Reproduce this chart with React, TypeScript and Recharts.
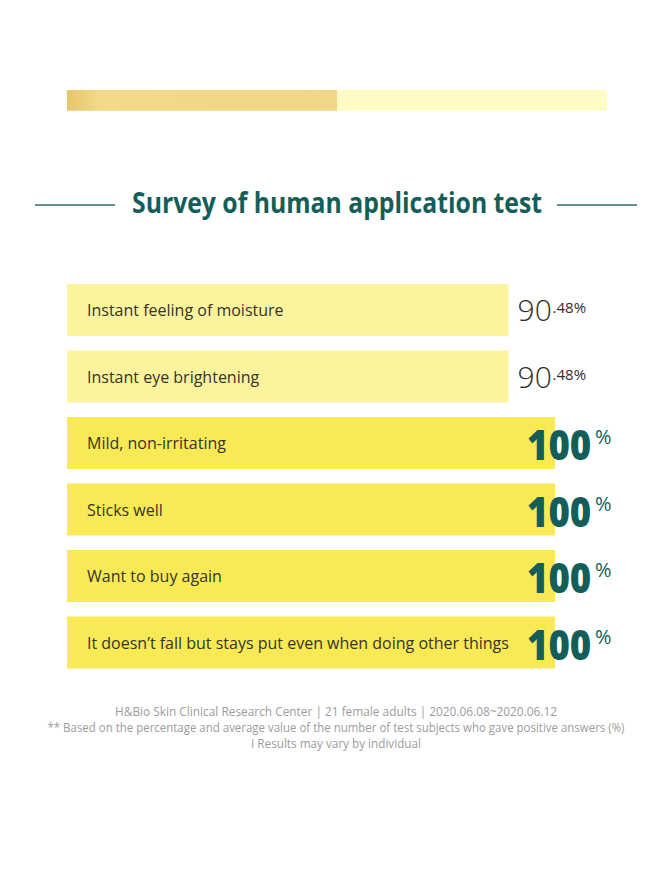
import React from "react";
import { BarChart, Bar, XAxis, YAxis, Cell, LabelList } from "recharts";

const categories = [
  "Instant feeling of moisture",
  "Instant eye brightening",
  "Mild, non-irritating",
  "Sticks well",
  "Want to buy again",
  "It doesn\u2019t fall but stays put even when doing other things",
];
const values = [90.48, 90.48, 100, 100, 100, 100];
const progressDone = [50];
const progressRest = [50];

const title = "Survey of human application test";
const footerLines = [
  "H&Bio Skin Clinical Research Center | 21 female adults | 2020.06.08~2020.06.12",
  "** Based on the percentage and average value of the number of test subjects who gave positive answers (%)",
  "I Results may vary by individual",
];

const data = categories.map((name, i) => ({ name, value: values[i] }));
const progressData = progressDone.map((d, i) => ({ name: "p", done: d, rest: progressRest[i] }));

const FONT = "'Open Sans', 'Noto Sans', sans-serif";
const TEAL = "#135E59";
const PALE = "#FCF39E";
const BRIGHT = "#F9EA55";

const NameLabel = (props: any) => {
  const { x, y, height, value } = props;
  return (
    <text
      x={Number(x) + 20}
      y={Number(y) + Number(height) / 2 + 6}
      fontFamily={FONT}
      fontSize={16}
      fill="#34342c"
    >
      {value}
    </text>
  );
};

const ValueLabel = (props: any) => {
  const { x, y, width, height, value } = props;
  const end = Number(x) + Number(width);
  const cy = Number(y) + Number(height) / 2;
  if (Number(value) >= 100) {
    const sx = end - 28;
    return (
      <g>
        <text
          transform={`translate(${sx},${cy + 17}) scale(0.87,1)`}
          fontFamily={FONT}
          fontSize={42}
          fontWeight={800}
          fill={TEAL}
        >
          {String(Math.round(Number(value)))}
        </text>
        <text x={sx + 68} y={cy + 1} fontFamily={FONT} fontSize={20} fontWeight={500} fill={TEAL}>
          %
        </text>
      </g>
    );
  }
  const parts = Number(value).toFixed(2).split(".");
  const sx = end + 9;
  return (
    <text x={sx} y={cy + 11} fontFamily={FONT} fill="#2f2f2f">
      <tspan fontSize={30} fontWeight={300}>
        {parts[0]}
      </tspan>
      <tspan x={sx + 35} y={cy + 3} fontSize={15} fontWeight={400}>
        {"." + parts[1] + "%"}
      </tspan>
    </text>
  );
};

export default function App() {
  return (
    <div
      style={{
        position: "absolute",
        left: 0,
        top: 0,
        width: 672,
        height: 896,
        background: "#ffffff",
        overflow: "hidden",
      }}
    >
      <div style={{ position: "absolute", left: 0, top: 89 }}>
        <BarChart
          width={672}
          height={23}
          layout="vertical"
          data={progressData}
          margin={{ top: 0, right: 65, bottom: 0, left: 67 }}
          barCategoryGap={0}
        >
          <defs>
            <linearGradient id="gold" x1="0" y1="0" x2="1" y2="0">
              <stop offset="0" stopColor="#E6C56C" />
              <stop offset="0.12" stopColor="#F2DA89" />
              <stop offset="1" stopColor="#EFD787" />
            </linearGradient>
          </defs>
          <XAxis type="number" domain={[0, 100]} hide />
          <YAxis type="category" dataKey="name" hide />
          <Bar dataKey="done" stackId="a" fill="url(#gold)" isAnimationActive={false} barSize={23} />
          <Bar dataKey="rest" stackId="a" fill="#FEFBC6" isAnimationActive={false} barSize={23} />
        </BarChart>
      </div>

      <div style={{ position: "absolute", left: 0, top: 0 }}>
        <BarChart
          width={672}
          height={896}
          layout="vertical"
          data={data}
          margin={{ top: 277, right: 117, bottom: 220, left: 67 }}
        >
          <XAxis type="number" domain={[0, 100]} hide />
          <YAxis type="category" dataKey="name" hide />
          <Bar dataKey="value" barSize={52} isAnimationActive={false}>
            {data.map((d, i) => (
              <Cell key={i} fill={d.value >= 100 ? BRIGHT : PALE} />
            ))}
            <LabelList dataKey="name" content={NameLabel} />
            <LabelList dataKey="value" content={ValueLabel} />
          </Bar>
        </BarChart>
      </div>

      <svg
        width={672}
        height={896}
        style={{ position: "absolute", left: 0, top: 0, pointerEvents: "none" }}
      >
        <line x1={35} y1={205} x2={115} y2={205} stroke="#2E6D69" strokeWidth={1.5} />
        <line x1={557} y1={205} x2={637} y2={205} stroke="#2E6D69" strokeWidth={1.5} />
        <text
          x={337}
          y={213}
          textAnchor="middle"
          fontFamily={FONT}
          fontSize={29}
          fontWeight={700}
          fill={TEAL}
          textLength={410}
          lengthAdjust="spacingAndGlyphs"
        >
          {title}
        </text>
        {footerLines.map((t, i) => (
          <text
            key={i}
            x={336}
            y={716 + i * 16}
            textAnchor="middle"
            fontFamily={FONT}
            fontSize={12}
            fill="#9C9C9C"
            textLength={[442, 577, 170][i]}
            lengthAdjust="spacingAndGlyphs"
          >
            {t}
          </text>
        ))}
      </svg>
    </div>
  );
}
